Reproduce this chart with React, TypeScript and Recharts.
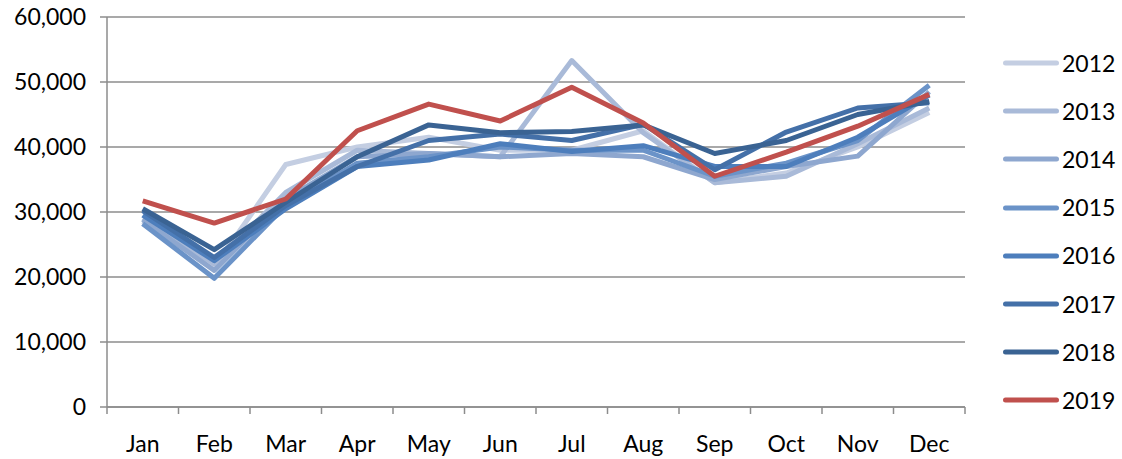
import React from 'react';
import { LineChart, Line, XAxis, YAxis, CartesianGrid } from 'recharts';

const categories = ['Jan', 'Feb', 'Mar', 'Apr', 'May', 'Jun', 'Jul', 'Aug', 'Sep', 'Oct', 'Nov', 'Dec'];
const yTicks = [0, 10000, 20000, 30000, 40000, 50000, 60000];

const s2012 = [28500, 21500, 37300, 40000, 41500, 39500, 39500, 42500, 34500, 36000, 40000, 45300];
const s2013 = [29000, 22000, 33000, 39500, 39000, 38500, 53300, 42200, 34500, 35500, 40500, 46000];
const s2014 = [28800, 21000, 32000, 38500, 39000, 38500, 39000, 38500, 35000, 37000, 38600, 48500];
const s2015 = [28200, 19800, 31000, 37500, 38500, 40000, 39500, 39500, 35500, 37500, 41000, 49500];
const s2016 = [29500, 22500, 30500, 37000, 38000, 40500, 39300, 40200, 37000, 37000, 41500, 48000];
const s2017 = [30200, 23000, 31000, 37000, 41000, 42000, 41000, 43500, 36500, 42300, 46000, 46800];
const s2018 = [30500, 24200, 31500, 38500, 43400, 42200, 42400, 43400, 39000, 41000, 45000, 47000];
const s2019 = [31700, 28300, 32000, 42500, 46600, 44000, 49200, 43700, 35500, 39200, 43200, 48100];

const seriesNames = ['2012', '2013', '2014', '2015', '2016', '2017', '2018', '2019'];
const seriesValues = [s2012, s2013, s2014, s2015, s2016, s2017, s2018, s2019];
const seriesColors = ['#C4CEE2', '#A9BAD8', '#8EA7CF', '#6B93C8', '#4D7EBC', '#4470A8', '#3A6393', '#C0504D'];

// each month sits in the middle of its category slot (slot index + 0.5)
const data = categories.map((month, i) => {
  const row: Record<string, string | number> = { month, pos: i + 0.5 };
  seriesNames.forEach((name, k) => {
    row[name] = seriesValues[k][i];
  });
  return row;
});

// boundaries (integers) get tick marks, slot centres (x.5) get the month labels
const xTicks: number[] = [];
for (let i = 0; i <= categories.length; i++) {
  xTicks.push(i);
  if (i < categories.length) xTicks.push(i + 0.5);
}

const FONT = 'Lato, "Open Sans", sans-serif';
const GRID = '#8C8C8C';

const fmt = (v: number) => v.toLocaleString('en-US');

const XTick = (props: any) => {
  const { x, y, payload } = props;
  const v = payload.value as number;
  if (Number.isInteger(v)) {
    return <line x1={x} y1={y} x2={x} y2={y + 7} stroke={GRID} strokeWidth={1.5} />;
  }
  return (
    <text x={x} y={y + 29} dy="0.71em" textAnchor="middle" fill="#000" fontSize={23} fontFamily={FONT}>
      {categories[Math.floor(v)]}
    </text>
  );
};

export default function App() {
  return (
    <div style={{ position: 'absolute', left: 0, top: 0, width: 1122, height: 459, background: '#fff', fontFamily: FONT }}>
      <LineChart
        width={1122}
        height={459}
        data={data}
        margin={{ top: 17, right: 157, bottom: 0, left: 0 }}
      >
        <CartesianGrid vertical={false} stroke={GRID} strokeWidth={1.5} />
        <XAxis
          type="number"
          dataKey="pos"
          domain={[0, categories.length]}
          ticks={xTicks}
          interval={0}
          allowDataOverflow
          height={52}
          tickSize={0}
          tickMargin={0}
          tickLine={false}
          axisLine={{ stroke: GRID, strokeWidth: 1.5 }}
          tick={<XTick />}
        />
        <YAxis
          width={107}
          domain={[0, 60000]}
          ticks={yTicks}
          interval={0}
          tickSize={7}
          tickMargin={14}
          tickFormatter={fmt}
          axisLine={{ stroke: GRID, strokeWidth: 1.5 }}
          tickLine={{ stroke: GRID, strokeWidth: 1.5 }}
          tick={{ fill: '#000', fontSize: 23, fontFamily: FONT }}
        />
        {seriesNames.map((name, k) => (
          <Line
            key={name}
            dataKey={name}
            stroke={seriesColors[k]}
            strokeWidth={5}
            strokeLinejoin="round"
            dot={false}
            activeDot={false}
            isAnimationActive={false}
          />
        ))}
      </LineChart>
      <div style={{ position: 'absolute', left: 1000, top: 39, width: 122 }}>
        {seriesNames.map((name, k) => (
          <div key={name} style={{ height: 48.2, display: 'flex', alignItems: 'center' }}>
            <svg width={62} height={10} style={{ display: 'block' }}>
              <line x1={5.5} y1={5} x2={56.5} y2={5} stroke={seriesColors[k]} strokeWidth={5} strokeLinecap="round" />
            </svg>
            <span style={{ fontSize: 23, color: '#000', lineHeight: 1 }}>{name}</span>
          </div>
        ))}
      </div>
    </div>
  );
}
